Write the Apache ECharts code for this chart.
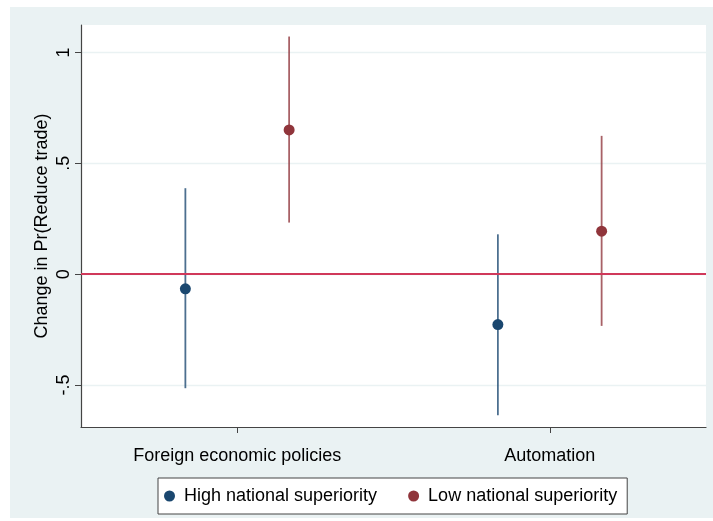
<!DOCTYPE html>
<html>
<head>
<meta charset="utf-8">
<script src="https://cdn.jsdelivr.net/npm/echarts@6/dist/echarts.min.js"></script>
<style>
  html, body { margin: 0; padding: 0; background: #ffffff; }
  #frame { position: absolute; left: 10px; top: 7px; width: 703px; height: 511px; background: #eaf2f3; }
  #chart { position: absolute; left: 0; top: 0; width: 713px; height: 521px; }
</style>
</head>
<body>
<div id="frame"></div>
<div id="chart"></div>
<script>
// Outcome categories along the x axis
const categories = ['Foreign economic policies', 'Automation'];

// High national superiority: point estimates and 95% CI bounds
const highEst = [-0.066, -0.227];
const highLo  = [-0.514, -0.636];
const highHi  = [0.388, 0.180];

// Low national superiority: point estimates and 95% CI bounds
const lowEst = [0.651, 0.194];
const lowLo  = [0.233, -0.233];
const lowHi  = [1.072, 0.624];

// Y tick values and their labels
const yTicks = [-0.5, 0, 0.5, 1];
const yTickLabels = ['-.5', '0', '.5', '1'];

const seriesNames = ['High national superiority', 'Low national superiority'];
const colors = ['#1a476f', '#90353b'];
const offsets = [-0.166, 0.166];

function pointData(est, k) {
  return est.map((v, i) => [i + 1 + offsets[k], v]);
}
function ciData(lo, hi, k) {
  return lo.map((v, i) => [i + 1 + offsets[k], v, hi[i]]);
}

function ciSeries(lo, hi, k) {
  return {
    type: 'custom',
    silent: true,
    z: 2,
    data: ciData(lo, hi, k),
    renderItem: function (params, api) {
      const a = api.coord([api.value(0), api.value(1)]);
      const b = api.coord([api.value(0), api.value(2)]);
      return {
        type: 'line',
        shape: { x1: a[0], y1: a[1], x2: b[0], y2: b[1] },
        style: { stroke: colors[k], lineWidth: 1.8, opacity: 0.78 }
      };
    }
  };
}

const chart = echarts.init(document.getElementById('chart'), null, { renderer: 'canvas' });
const font = 'Liberation Sans, Arial, Helvetica, sans-serif';

chart.setOption({
  backgroundColor: 'transparent',
  animation: false,
  textStyle: { fontFamily: font },
  grid: {
    left: 81, right: 7, top: 25, bottom: 94,
    show: true, backgroundColor: '#ffffff', borderWidth: 0
  },
  legend: {
    data: seriesNames.map((n, k) => ({ name: n, icon: 'circle', itemStyle: { color: colors[k], opacity: 1 } })),
    left: 158, top: 478,
    padding: [9, 10, 9, 6],
    itemWidth: 11, itemHeight: 11,
    itemGap: 31,
    backgroundColor: '#ffffff',
    borderColor: '#444444', borderWidth: 1,
    textStyle: { fontFamily: font, fontSize: 18, color: '#000000', padding: [0, 0, 0, 4] }
  },
  xAxis: {
    type: 'value',
    min: 0.5, max: 2.5,
    axisLine: { show: true, onZero: false, lineStyle: { color: '#444444', width: 1.2 } },
    axisTick: { show: true, length: 6, customValues: [1, 2], lineStyle: { color: '#444444' } },
    axisLabel: {
      customValues: [1, 2],
      formatter: v => categories[Math.round(v) - 1] || '',
      fontFamily: font, fontSize: 18, color: '#000000', margin: 20
    },
    splitLine: { show: false }
  },
  yAxis: {
    type: 'value',
    min: -0.689, max: 1.124,
    name: 'Change in Pr(Reduce trade)',
    nameLocation: 'middle',
    nameGap: 30,
    nameMoveOverlap: false,
    nameTextStyle: { fontFamily: font, fontSize: 18, color: '#000000' },
    axisLine: { show: true, onZero: false, lineStyle: { color: '#444444', width: 1.2 } },
    axisTick: { show: true, length: 6, customValues: yTicks, lineStyle: { color: '#444444' } },
    axisLabel: {
      customValues: yTicks,
      rotate: 90,
      formatter: v => yTickLabels[yTicks.findIndex(t => Math.abs(t - v) < 1e-9)] ?? '',
      fontFamily: font, fontSize: 18, color: '#000000', margin: 8
    },
    splitLine: { show: true, lineStyle: { color: '#eaf2f3', width: 1.3 } }
  },
  series: [
    ciSeries(highLo, highHi, 0),
    ciSeries(lowLo, lowHi, 1),
    {
      name: seriesNames[0], type: 'scatter', z: 4,
      symbol: 'circle', symbolSize: 11,
      itemStyle: { color: colors[0], opacity: 1 },
      data: pointData(highEst, 0),
      markLine: {
        silent: true, symbol: 'none', label: { show: false },
        lineStyle: { color: '#d0385a', width: 2, type: 'solid' },
        data: [{ yAxis: 0 }]
      }
    },
    {
      name: seriesNames[1], type: 'scatter', z: 4,
      symbol: 'circle', symbolSize: 11,
      itemStyle: { color: colors[1], opacity: 1 },
      data: pointData(lowEst, 1)
    }
  ]
});
</script>
</body>
</html>
